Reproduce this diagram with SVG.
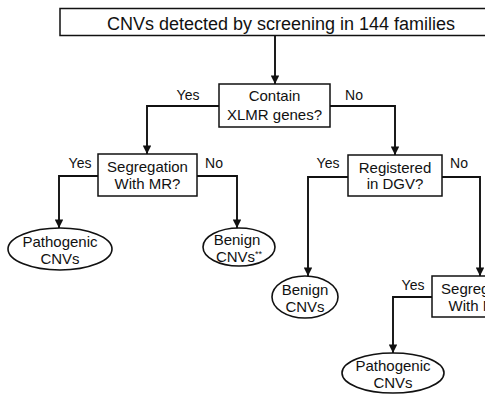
<svg xmlns="http://www.w3.org/2000/svg" width="485" height="396" viewBox="0 0 485 396">
<style>
.box{fill:#fff;stroke:#111;stroke-width:1.5}
.ell{fill:#fff;stroke:#111;stroke-width:1.6}
.t{font-family:"Liberation Sans",Arial,sans-serif;font-size:15px;fill:#111;text-anchor:middle}
.title{font-size:18px}
.lbl{font-family:"Liberation Sans",Arial,sans-serif;font-size:14px;fill:#111;text-anchor:middle}
.c{fill:none;stroke:#111;stroke-width:1.9;marker-end:url(#ah)}
</style>
<defs>
<marker id="ah" viewBox="0 0 10 10" refX="10" refY="5" markerWidth="4.5" markerHeight="4.5" orient="auto" markerUnits="strokeWidth">
<path d="M0,0 L10,5 L0,10 z" fill="#111"/>
</marker>
</defs>
<rect width="485" height="396" fill="#fff"/>
<g id="connectors">
<path class="c" d="M275,35 V84"/>
<path class="c" d="M219,106 H147 V154"/>
<path class="c" d="M330,106 H395 V155"/>
<path class="c" d="M98,176 H59 V228"/>
<path class="c" d="M197,176 H237 V228"/>
<path class="c" d="M348,177 H308 V276"/>
<path class="c" d="M442,177 H480 V276"/>
<path class="c" d="M432,297 H393 V353"/>
</g>
<g id="labels">
<text class="lbl" x="188" y="100">Yes</text>
<text class="lbl" x="354" y="100">No</text>
<text class="lbl" x="80" y="168">Yes</text>
<text class="lbl" x="214" y="168">No</text>
<text class="lbl" x="328" y="168">Yes</text>
<text class="lbl" x="459" y="168">No</text>
<text class="lbl" x="413" y="290">Yes</text>
</g>
<g id="n-title">
<rect class="box" x="60" y="8.5" width="440" height="27"/>
<text class="t title" x="281" y="30">CNVs detected by screening in 144 families</text>
</g>
<g id="n-xlmr">
<rect class="box" x="219" y="84" width="111" height="43"/>
<text class="t" x="274.5" y="101">Contain</text>
<text class="t" x="274.5" y="120">XLMR genes?</text>
</g>
<g id="n-seg1">
<rect class="box" x="98" y="154" width="99" height="42"/>
<text class="t" x="147.5" y="172">Segregation</text>
<text class="t" x="147.5" y="189">With MR?</text>
</g>
<g id="n-dgv">
<rect class="box" x="348" y="155" width="94" height="41"/>
<text class="t" x="395" y="173">Registered</text>
<text class="t" x="395" y="189">in DGV?</text>
</g>
<g id="n-path1">
<ellipse class="ell" cx="60" cy="249" rx="52" ry="21"/>
<text class="t" x="60" y="247">Pathogenic</text>
<text class="t" x="60" y="264">CNVs</text>
</g>
<g id="n-benign1">
<ellipse class="ell" cx="239" cy="247" rx="36" ry="19"/>
<text class="t" x="237" y="245">Benign</text>
<text class="t" x="239" y="262">CNVs<tspan font-size="9" dy="-5">**</tspan></text>
</g>
<g id="n-benign2">
<ellipse class="ell" cx="305" cy="297" rx="33" ry="21"/>
<text class="t" x="305" y="295">Benign</text>
<text class="t" x="305" y="312">CNVs</text>
</g>
<g id="n-seg2">
<rect class="box" x="432" y="276" width="99" height="41"/>
<text class="t" x="481.5" y="294">Segregation</text>
<text class="t" x="481.5" y="311">With MR?</text>
</g>
<g id="n-path2">
<ellipse class="ell" cx="393" cy="373" rx="51" ry="20"/>
<text class="t" x="393" y="371">Pathogenic</text>
<text class="t" x="393" y="388">CNVs</text>
</g>
</svg>
